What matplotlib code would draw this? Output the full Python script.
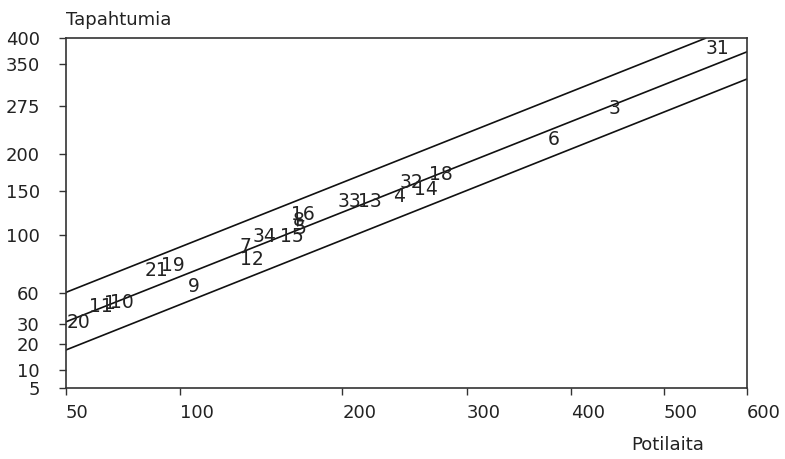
import numpy as np
import matplotlib
matplotlib.use("Agg")
import matplotlib.pyplot as plt

plt.rcParams['font.family'] = ['DejaVu Sans']

# potilaita (x) / tapahtumia (y) luettu kuvasta
labels = ["20", "11", "1", "10", "21", "19", "9", "7", "12", "34", "15",
          "16", "8", "5", "33", "13", "4", "32", "14", "18", "6", "3", "31"]
potilaat = [54.8, 63.3, 67.2, 72.4, 88.2, 95.9, 106.7, 136.2, 139.8, 147.3, 165.4,
            172.1, 169.9, 171.0, 204.9, 220.5, 243.1, 253.4, 264.9, 277.5, 382.5, 444.9, 563.4]
tapahtumat = [30.9, 41.1, 43.1, 43.3, 67.9, 72.1, 55.1, 88.8, 77.1, 98.6, 98.6,
              121.7, 116.1, 107.2, 137.0, 137.0, 143.9, 160.5, 152.2, 171.9, 220.2, 270.5, 378.6]

# rajaviivat
ylaraja_x = [50, 549]
ylaraja_y = [50.5, 400]
keski_x = [50, 600]
keski_y = [31.5, 373]
alaraja_x = [50, 600]
alaraja_y = [17.5, 321.6]

xticks = [50, 100, 200, 300, 400, 500, 600]
yticks = [5, 10, 20, 30, 50, 100, 150, 200, 275, 350, 400]
yticklabels = ["5", "10", "20", "30", "60", "100", "150", "200", "275", "350", "400"]

fig = plt.figure(figsize=(7.85, 4.59), dpi=100)
ax = fig.add_axes([0.0841, 0.154, 0.8675, 0.7626])

ax.set_xscale('function', functions=(np.sqrt, np.square))
ax.set_yscale('function', functions=(np.sqrt, np.square))
ax.set_xlim(50, 600)
ax.set_ylim(5, 400)

txtcol = "#222222"
for xs, ys in [(ylaraja_x, ylaraja_y), (keski_x, keski_y), (alaraja_x, alaraja_y)]:
    ax.plot(xs, ys, color="#111111", lw=1.2)

for lab, x, y in zip(labels, potilaat, tapahtumat):
    ax.text(x, y, lab, ha="center", va="center", fontsize=13.5, color=txtcol)

ax.set_xticks(xticks)
ax.set_xticklabels([str(t) for t in xticks], ha="left")
ax.set_yticks(yticks)
ax.set_yticklabels(yticklabels)
ax.minorticks_off()
ax.tick_params(axis="both", direction="out", length=5, width=1, color="#333333",
               labelsize=13, labelcolor=txtcol)
ax.tick_params(axis="x", pad=6)
ax.tick_params(axis="y", pad=14)

for s in ax.spines.values():
    s.set_color("#333333")
    s.set_linewidth(1.2)

fig.text(66 / 785, 1 - 20 / 459, "Tapahtumia", ha="left", va="center", fontsize=13, color=txtcol)
fig.text(668 / 785, 1 - 445 / 459, "Potilaita", ha="center", va="center", fontsize=13, color=txtcol)

fig.savefig("out.png", dpi=100)
